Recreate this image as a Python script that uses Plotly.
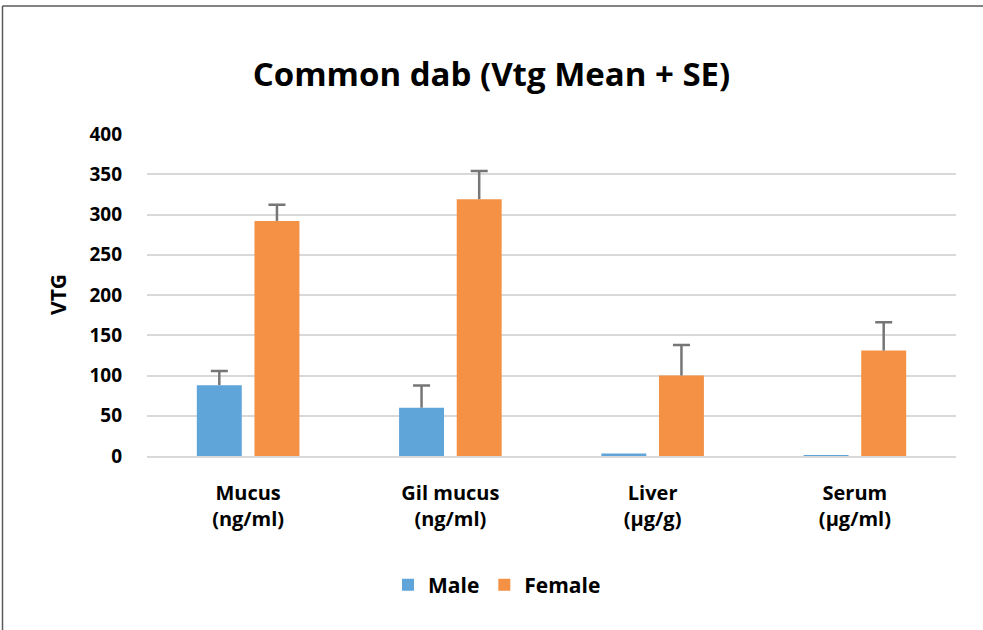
import plotly.graph_objects as go

categories = ["Mucus<br>(ng/ml)", "Gil mucus<br>(ng/ml)", "Liver<br>(µg/g)", "Serum<br>(µg/ml)"]
male_mean = [88, 60, 3, 0.6]
male_se = [17.5, 27.5, None, None]
female_mean = [292, 319, 100, 131]
female_se = [20, 35, 38, 35]
y_ticks = [0, 50, 100, 150, 200, 250, 300, 350, 400]

MALE_C = "#5FA5DA"
FEMALE_C = "#F59145"
ERR_C = "#767676"
FONT = "Open Sans"

fig = go.Figure()


def add_series(name, means, ses, color, group):
    # visible bar with a cap-less upper error line
    fig.add_trace(go.Bar(
        x=categories, y=means, name=f"<b>{name}</b>", offsetgroup=group,
        marker=dict(color=color, line=dict(width=0)),
        error_y=dict(type="data", symmetric=False,
                     array=[s if s is not None else 0 for s in ses],
                     arrayminus=[0] * len(ses),
                     color=ERR_C, thickness=2.5, width=0),
    ))
    # transparent bar at mean+SE carrying only the cap of the error bar
    caps = [m + s if s is not None else None for m, s in zip(means, ses)]
    fig.add_trace(go.Bar(
        x=categories, y=caps, offsetgroup=group, showlegend=False,
        hoverinfo="skip",
        marker=dict(color="rgba(0,0,0,0)", line=dict(width=0)),
        error_y=dict(type="data", array=[0] * len(ses),
                     color=ERR_C, thickness=2.5, width=8.5),
    ))


add_series("Male", male_mean, male_se, MALE_C, "m")
add_series("Female", female_mean, female_se, FEMALE_C, "f")

fig.update_layout(
    width=983, height=630,
    paper_bgcolor="white", plot_bgcolor="white",
    margin=dict(l=147, r=27, t=134, b=174),
    barmode="group", bargap=0.43, bargroupgap=0.22,
    font=dict(family=FONT, color="black"),
    title=dict(text="<b>Common dab (Vtg Mean + SE)</b>",
               font=dict(size=33, family=FONT, color="black"),
               x=0.5, xanchor="center", xref="container",
               y=1 - 74 / 630, yanchor="middle", yref="container"),
    legend=dict(orientation="h", x=(497 - 147) / 809, xanchor="center",
                y=-(585 - 456) / 322, yanchor="middle",
                font=dict(size=21, family=FONT, color="black"),
                itemwidth=30, traceorder="normal"),
    showlegend=True,
)

fig.update_yaxes(range=[0, 400], tickvals=y_ticks,
                 ticktext=[f"<b>{v}</b>" for v in y_ticks],
                 tickfont=dict(size=19, family=FONT, color="black"),
                 showgrid=True, gridcolor="#D9D9D9", gridwidth=1.5,
                 zeroline=False, showline=False, ticks="",
                 ticklabelstandoff=24)
fig.update_xaxes(tickvals=categories,
                 ticktext=[f"<b>{c}</b>" for c in categories],
                 tickfont=dict(size=20, family=FONT, color="black"),
                 showline=True, linecolor="#D9D9D9", linewidth=1.5,
                 ticks="", ticklabelstandoff=18)

fig.add_annotation(text="<b>VTG</b>", textangle=-90,
                   x=(58 - 147) / 809, xref="paper", xanchor="center",
                   y=0.5, yref="paper", yanchor="middle", showarrow=False,
                   font=dict(size=21, family=FONT, color="black"))

# outer frame (top and left edges visible in the reference)
fig.add_shape(type="line", xref="paper", yref="paper",
              x0=(2.5 - 147) / 809, x1=(1000 - 147) / 809,
              y0=1 + (134 - 6) / 322, y1=1 + (134 - 6) / 322,
              line=dict(color="#5A5A5A", width=1.5))
fig.add_shape(type="line", xref="paper", yref="paper",
              x0=(2.5 - 147) / 809, x1=(2.5 - 147) / 809,
              y0=1 + (134 - 6) / 322, y1=-(650 - 456) / 322,
              line=dict(color="#5A5A5A", width=1.5))

fig.write_html("out.html",
               config={"displayModeBar": False},
               post_script="document.body.style.margin='0';"
                           "document.body.style.overflow='hidden';")
